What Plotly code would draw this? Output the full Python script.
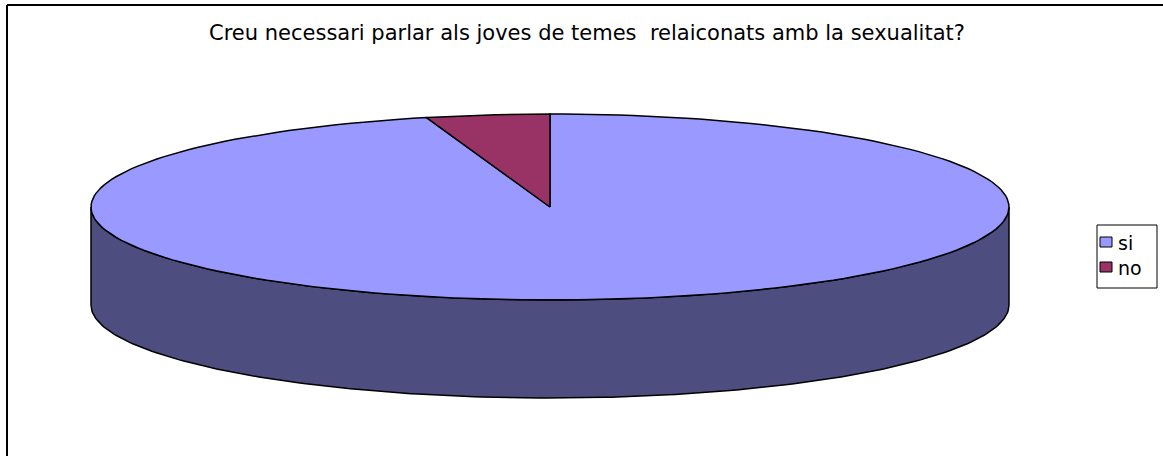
import numpy as np
import plotly.graph_objects as go

# survey answers
labels = ["si", "no"]
values = [22, 1]
top_colors = ["#9999FF", "#993366"]
side_colors = ["#4D4D80", "#4D1A33"]

title = "Creu necessari parlar als joves de temes \u00a0relaiconats amb la sexualitat?"

# pie geometry (pixel units of the canvas)
W, H = 1163, 456
CX, CY, RX, RY, DEPTH = 550, 207, 459, 93, 98

# legend box
LX0, LY0, LX1, LY1 = 1097, 225, 1157, 288
ROW_Y = [242, 267]


def arc(a0, a1, dy=0.0, n=200):
    t = np.radians(np.linspace(a0, a1, n))
    return CX + RX * np.sin(t), CY + dy - RY * np.cos(t)


fig = go.Figure()

total = sum(values)
bounds = np.concatenate([[0], np.cumsum(values) / total * 360])

# side walls first (only the front half is visible)
for i, lab in enumerate(labels):
    lo, hi = max(bounds[i], 90), min(bounds[i + 1], 270)
    if hi <= lo:
        continue
    xt, yt = arc(lo, hi)
    xb, yb = arc(hi, lo, DEPTH)
    fig.add_trace(go.Scatter(
        x=np.concatenate([xt, xb, xt[:1]]), y=np.concatenate([yt, yb, yt[:1]]),
        mode="lines", fill="toself", fillcolor=side_colors[i],
        line=dict(color="black", width=1.5), showlegend=False, hoverinfo="skip"))

# top faces
for i, lab in enumerate(labels):
    xa, ya = arc(bounds[i], bounds[i + 1])
    fig.add_trace(go.Scatter(
        x=np.concatenate([[CX], xa, [CX]]), y=np.concatenate([[CY], ya, [CY]]),
        mode="lines", fill="toself", fillcolor=top_colors[i],
        line=dict(color="black", width=1.5), showlegend=False, hoverinfo="skip"))

shapes = [
    dict(type="line", x0=7, y0=H, x1=7, y1=5, line=dict(color="black", width=2)),
    dict(type="line", x0=7, y0=5, x1=W, y1=5, line=dict(color="black", width=2)),
    dict(type="rect", x0=LX0, y0=LY0, x1=LX1, y1=LY1, line=dict(color="black", width=1)),
]
annotations = [dict(text=title, x=587, y=33, showarrow=False,
                    font=dict(size=21, family="DejaVu Sans"))]

# hand-made legend, Excel style
for i, lab in enumerate(labels):
    shapes.append(dict(type="rect", x0=LX0 + 3, x1=LX0 + 15,
                       y0=ROW_Y[i] - 5, y1=ROW_Y[i] + 5,
                       fillcolor=top_colors[i], line=dict(color="black", width=1)))
    annotations.append(dict(text=lab, x=LX0 + 19, y=ROW_Y[i] + 1, xanchor="left",
                            showarrow=False, font=dict(size=19, family="DejaVu Sans")))

for s in shapes:
    s.update(xref="x", yref="y")
for a in annotations:
    a.update(xref="x", yref="y")

fig.update_layout(
    width=W, height=H,
    margin=dict(l=0, r=0, t=0, b=0),
    paper_bgcolor="white", plot_bgcolor="white",
    hovermode=False, showlegend=False,
    xaxis=dict(range=[0, W], visible=False, fixedrange=True),
    yaxis=dict(range=[H, 0], visible=False, fixedrange=True),
    font=dict(family="DejaVu Sans, Arial, sans-serif", color="black"),
    shapes=shapes,
    annotations=annotations,
)

fig.write_html("out.html", config={"displayModeBar": False},
               post_script="document.body.style.margin='0';")
